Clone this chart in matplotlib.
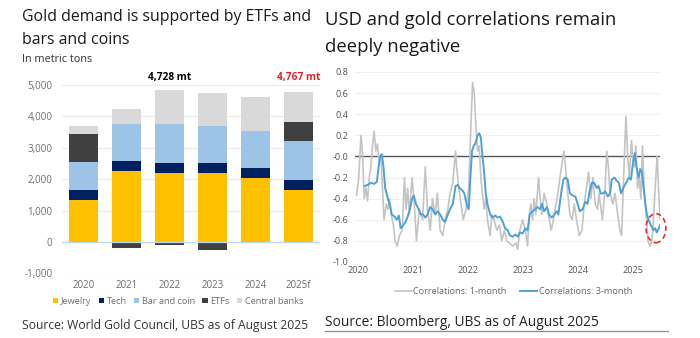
import numpy as np
import matplotlib
matplotlib.use("Agg")
import matplotlib.pyplot as plt
from matplotlib.patches import Ellipse
from matplotlib.ticker import FuncFormatter

plt.rcParams["font.family"] = ["Open Sans", "DejaVu Sans"]
plt.rcParams["axes.unicode_minus"] = False

# ---- left panel: gold demand (metric tons) ----
years = ["2020", "2021", "2022", "2023", "2024", "2025f"]
jewelry = np.array([1324, 2256, 2203, 2193, 2023, 1642])
tech = np.array([318, 329, 318, 318, 318, 318])
bar_coin = np.array([900, 1186, 1229, 1197, 1187, 1271])
etfs = np.array([901, -180, -95, -244, 0, 604])
central_banks = np.array([243, 456, 1091, 1048, 1101, 932])
totals_text = {2: ("4,728 mt", "black"), 5: ("4,767 mt", "#E8202A")}

# ---- right panel: USD / gold correlations ----
t_1m = [2019.98, 2020.02, 2020.06, 2020.09, 2020.12, 2020.15, 2020.18, 2020.21,
        2020.24, 2020.27, 2020.30, 2020.33, 2020.36, 2020.39, 2020.42, 2020.45,
        2020.48, 2020.52, 2020.55, 2020.58, 2020.61, 2020.65, 2020.68, 2020.72,
        2020.76, 2020.81, 2020.85, 2020.88, 2020.91, 2020.94, 2020.99, 2021.03,
        2021.07, 2021.12, 2021.18, 2021.23, 2021.27, 2021.32, 2021.36, 2021.41,
        2021.45, 2021.50, 2021.55, 2021.59, 2021.64, 2021.68, 2021.73, 2021.78,
        2021.80, 2021.84, 2021.88, 2021.92, 2021.97, 2022.02, 2022.06, 2022.09,
        2022.12, 2022.15, 2022.18, 2022.21, 2022.24, 2022.27, 2022.30, 2022.33,
        2022.36, 2022.41, 2022.44, 2022.48, 2022.53, 2022.58, 2022.62, 2022.67,
        2022.71, 2022.76, 2022.82, 2022.88, 2022.91, 2022.95, 2023.00, 2023.05,
        2023.09, 2023.12, 2023.15, 2023.18, 2023.21, 2023.24, 2023.29, 2023.32,
        2023.35, 2023.39, 2023.44, 2023.47, 2023.52, 2023.56, 2023.59, 2023.64,
        2023.68, 2023.72, 2023.75, 2023.78, 2023.82, 2023.86, 2023.90, 2023.94,
        2023.98, 2024.03, 2024.08, 2024.12, 2024.16, 2024.20, 2024.24, 2024.28,
        2024.32, 2024.36, 2024.39, 2024.45, 2024.50, 2024.53, 2024.56, 2024.59,
        2024.64, 2024.68, 2024.73, 2024.77, 2024.80, 2024.83, 2024.85, 2024.88,
        2024.91, 2024.94, 2024.98, 2025.00, 2025.03, 2025.06, 2025.09, 2025.12,
        2025.15, 2025.18, 2025.21, 2025.24, 2025.28, 2025.32, 2025.35, 2025.38,
        2025.41, 2025.44, 2025.45, 2025.47, 2025.50]
corr_1m = [-0.37, -0.20, 0.20, 0.00, -0.40, -0.30, -0.42, -0.20,
           -0.10, 0.10, 0.24, 0.05, 0.12, -0.05, 0.02, -0.30,
           -0.60, -0.45, -0.50, -0.40, -0.55, -0.65, -0.80, -0.85,
           -0.75, -0.70, -0.20, -0.50, -0.30, -0.55, -0.20, -0.45,
           -0.80, -0.50, -0.60, -0.10, -0.50, -0.70, -0.40, -0.55,
           -0.35, -0.70, -0.75, -0.60, -0.50, -0.35, -0.25, 0.05,
           -0.10, -0.30, -0.45, -0.60, -0.50, -0.30, 0.30, 0.70,
           0.60, 0.30, 0.05, 0.10, -0.20, -0.35, -0.50, -0.40,
           -0.60, -0.75, -0.55, -0.60, -0.70, -0.65, -0.80, -0.70,
           -0.80, -0.82, -0.85, -0.82, -0.88, -0.70, -0.60, -0.70,
           -0.85, -0.55, -0.45, -0.60, -0.40, -0.55, -0.20, -0.40,
           -0.55, -0.35, -0.45, -0.55, -0.70, -0.60, -0.50, -0.35,
           -0.20, -0.05, 0.05, -0.10, -0.35, -0.55, -0.60, -0.45,
           -0.60, -0.75, -0.70, -0.45, -0.30, -0.15, -0.40, -0.20,
           -0.45, -0.50, -0.35, -0.60, -0.30, 0.05, -0.10, -0.35,
           -0.45, -0.35, -0.55, -0.70, -0.75, -0.30, 0.00, 0.38,
           0.00, -0.20, 0.15, 0.00, -0.10, 0.10, -0.30, -0.20,
           -0.40, 0.10, -0.30, -0.50, -0.80, -0.85, -0.80, -0.60,
           -0.30, -0.05, 0.00, -0.30, -0.60]

t_3m = [2020.13, 2020.18, 2020.24, 2020.30, 2020.35, 2020.38, 2020.41, 2020.44,
        2020.47, 2020.50, 2020.55, 2020.59, 2020.62, 2020.67, 2020.71, 2020.75,
        2020.78, 2020.82, 2020.87, 2020.91, 2020.95, 2020.99, 2021.02, 2021.06,
        2021.11, 2021.15, 2021.19, 2021.23, 2021.27, 2021.32, 2021.36, 2021.41,
        2021.45, 2021.50, 2021.55, 2021.59, 2021.64, 2021.68, 2021.73, 2021.78,
        2021.82, 2021.85, 2021.90, 2021.94, 2021.98, 2022.02, 2022.05, 2022.08,
        2022.11, 2022.14, 2022.18, 2022.21, 2022.24, 2022.27, 2022.30, 2022.33,
        2022.36, 2022.41, 2022.45, 2022.50, 2022.55, 2022.59, 2022.64, 2022.68,
        2022.73, 2022.77, 2022.82, 2022.87, 2022.91, 2022.95, 2023.00, 2023.05,
        2023.09, 2023.13, 2023.18, 2023.23, 2023.27, 2023.32, 2023.35, 2023.39,
        2023.44, 2023.48, 2023.53, 2023.58, 2023.62, 2023.65, 2023.70, 2023.74,
        2023.78, 2023.82, 2023.86, 2023.91, 2023.96, 2024.00, 2024.04, 2024.09,
        2024.14, 2024.18, 2024.21, 2024.26, 2024.30, 2024.35, 2024.38, 2024.42,
        2024.47, 2024.50, 2024.55, 2024.59, 2024.62, 2024.67, 2024.71, 2024.75,
        2024.79, 2024.83, 2024.88, 2024.93, 2024.97, 2025.01, 2025.04, 2025.07,
        2025.11, 2025.14, 2025.17, 2025.20, 2025.23, 2025.26, 2025.29, 2025.33,
        2025.38, 2025.41, 2025.44, 2025.46, 2025.50]
corr_3m = [-0.28, -0.27, -0.25, -0.26, -0.24, -0.10, 0.00, 0.02,
           -0.10, -0.30, -0.40, -0.47, -0.55, -0.57, -0.60, -0.56,
           -0.68, -0.66, -0.62, -0.57, -0.50, -0.40, -0.37, -0.45,
           -0.50, -0.55, -0.55, -0.58, -0.55, -0.48, -0.50, -0.55,
           -0.52, -0.55, -0.60, -0.62, -0.55, -0.50, -0.45, -0.28,
           -0.27, -0.30, -0.32, -0.35, -0.45, -0.50, -0.20, 0.05,
           0.10, 0.12, 0.20, 0.22, 0.18, 0.00, -0.15, -0.35,
           -0.45, -0.55, -0.58, -0.56, -0.58, -0.57, -0.62, -0.68,
           -0.70, -0.75, -0.76, -0.74, -0.76, -0.72, -0.73, -0.68,
           -0.70, -0.55, -0.52, -0.50, -0.48, -0.50, -0.45, -0.52,
           -0.48, -0.55, -0.58, -0.55, -0.52, -0.55, -0.35, -0.22,
           -0.20, -0.22, -0.35, -0.37, -0.38, -0.45, -0.52, -0.50,
           -0.43, -0.45, -0.35, -0.25, -0.25, -0.30, -0.28, -0.35,
           -0.35, -0.33, -0.38, -0.35, -0.22, -0.20, -0.23, -0.25,
           -0.35, -0.30, -0.25, -0.20, -0.22, -0.05, 0.03, -0.10,
           -0.20, -0.12, -0.15, -0.30, -0.45, -0.55, -0.60, -0.65,
           -0.70, -0.68, -0.72, -0.70, -0.65]
year_ticks = [2020, 2021, 2022, 2023, 2024, 2025]

GRID = "#E9E9E9"
TICK = "#6E6E6E"

fig = plt.figure(figsize=(7.0, 3.38), dpi=100)

# ================= left: stacked bars =================
ax1 = fig.add_axes([0.0886, 0.1914, 0.3686, 0.557])
x = np.arange(len(years))
w = 0.67
base_etf = np.where(etfs >= 0, jewelry + tech + bar_coin, 0)
top_cb = jewelry + tech + bar_coin + np.clip(etfs, 0, None)

ax1.bar(x, jewelry, w, color="#FFC000", label="Jewelry", zorder=3)
ax1.bar(x, tech, w, bottom=jewelry, color="#002060", label="Tech", zorder=3)
ax1.bar(x, bar_coin, w, bottom=jewelry + tech, color="#9DC3E6",
        label="Bar and coin", zorder=3)
ax1.bar(x, etfs, w, bottom=base_etf, color="#404040", label="ETFs", zorder=3)
ax1.bar(x, central_banks, w, bottom=top_cb, color="#D9D9D9",
        label="Central banks", zorder=3)

for i, (txt, col) in totals_text.items():
    ax1.text(x[i], 5230, txt, ha="center", va="center", fontsize=7.3,
             fontweight="bold", color=col)

ax1.set_xlim(-0.5, len(years) - 0.5)
ax1.set_ylim(-1000, 5000)
ax1.set_yticks(range(-1000, 5001, 1000))
ax1.yaxis.set_major_formatter(FuncFormatter(lambda v, p: f"{v:,.0f}"))
ax1.set_xticks(x, years)
ax1.grid(axis="y", color=GRID, lw=0.8, zorder=0)
ax1.axhline(0, color="#BDD7EE", lw=0.9, zorder=4)
for s in ax1.spines.values():
    s.set_visible(False)
ax1.tick_params(length=0, labelsize=7, colors=TICK, pad=7)
ax1.tick_params(axis="x", pad=5)
ax1.legend(loc="upper center", bbox_to_anchor=(0.45, -0.08), ncol=5,
           frameon=False, fontsize=6.6, handlelength=0.55, handleheight=0.55,
           handletextpad=0.3, columnspacing=0.8, labelcolor=TICK)

fig.text(0.031, 1 - 17 / 338, "Gold demand is supported by ETFs and",
         fontsize=11.4, va="center", ha="left", color="#1a1a1a")
fig.text(0.031, 1 - 40 / 338, "bars and coins",
         fontsize=11.4, va="center", ha="left", color="#1a1a1a")
fig.text(0.031, 1 - 60 / 338, "In metric tons", fontsize=7.8, va="center",
         ha="left", color="#333333")
fig.text(0.031, 1 - 325 / 338, "Source: World Gold Council, UBS as of August 2025",
         fontsize=8.7, va="center", ha="left", color="#333333")

# ================= right: correlations =================
ax2 = fig.add_axes([0.507, 0.2249, 0.436, 0.5621])
ax2.plot(t_1m, corr_1m, color="#C4C4C4", lw=1.2,
         label="Correlations: 1-month", zorder=3)
ax2.plot(t_3m, corr_3m, color="#4EA1D6", lw=1.4,
         label="Correlations: 3-month", zorder=4)
ax2.axhline(0, color="#595959", lw=1.0, zorder=2)
ax2.add_patch(Ellipse((2025.425, -0.68), 0.36, 0.275, fill=False,
                      ec="#E03030", lw=1.2, ls=(0, (3, 2)), clip_on=False,
                      zorder=5))

ax2.set_xlim(2019.95, 2025.5)
ax2.set_ylim(-1.0, 0.8)
ax2.set_yticks(np.arange(-1.0, 0.81, 0.2))
ax2.yaxis.set_major_formatter(FuncFormatter(lambda v, p: f"{v:.1f}"))
ax2.set_xticks(year_ticks, [str(y) for y in year_ticks])
ax2.grid(axis="y", color="#F0F0F0", lw=0.8, zorder=0)
for s in ax2.spines.values():
    s.set_visible(False)
ax2.tick_params(length=0, labelsize=6.6, colors="#555555", pad=5)
ax2.tick_params(axis="x", pad=3)
ax2.legend(loc="upper center", bbox_to_anchor=(0.52, -0.09), ncol=2,
           frameon=False, fontsize=6.6, handlelength=1.8, handletextpad=0.2,
           columnspacing=1.5, labelcolor="#666666")

fig.text(0.464, 1 - 20 / 338, "USD and gold correlations remain",
         fontsize=13.3, va="center", ha="left", color="#1a1a1a")
fig.text(0.464, 1 - 47 / 338, "deeply negative",
         fontsize=13.3, va="center", ha="left", color="#1a1a1a")
fig.text(0.464, 1 - 322 / 338, "Source: Bloomberg, UBS as of August 2025",
         fontsize=9.9, va="center", ha="left", color="#222222")
fig.add_artist(plt.Line2D([0.464, 0.954], [1 - 331 / 338, 1 - 331 / 338],
                          color="#8C8C8C", lw=0.9, transform=fig.transFigure))

fig.savefig("out.png", dpi=100)
